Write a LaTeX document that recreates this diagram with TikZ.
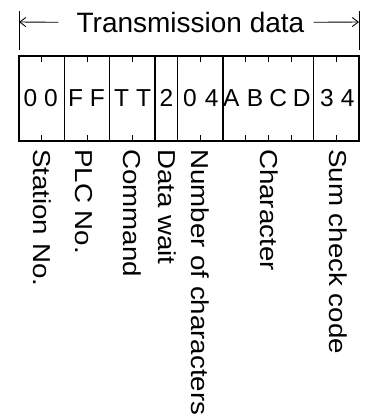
\documentclass[tikz,border=0pt]{standalone}
\usepackage{fontspec}
\setmainfont{Liberation Sans}
\newfontfamily\widefont[FakeStretch=1.13]{Liberation Sans}
\usetikzlibrary{arrows.meta}
\begin{document}
\begin{tikzpicture}[x=1pt,y=-1pt,
  frame/.style={line width=1.3pt},
  tickline/.style={line width=0.9pt},
  cellchar/.style={font=\fontsize{24.5}{24.5}\selectfont, anchor=base, inner sep=0pt},
  lbl/.style={font=\widefont\fontsize{24.5}{24.5}\selectfont, rotate=-90, anchor=base west, inner sep=0pt},
  dimarrow/.style={line width=0.9pt, -{Straight Barb[length=6pt,width=9pt]}}]
\useasboundingbox (0,0) rectangle (366,418);
\def\cw{22.6667}
% title and dimension arrows
\node[font=\fontsize{28}{28}\selectfont, anchor=base, inner sep=0pt] (title) at (190.5,32.3) {Transmission data};
\coordinate (lend) at (19,22);
\coordinate (rend) at (359,22);
\draw[tickline] (19,11) -- (19,50);
\draw[tickline] (359,11) -- (359,50);
\draw[dimarrow] ([xshift=-18pt]title.west) -- (lend);
\draw[dimarrow] ([xshift=9pt]title.east) -- (rend);
% frame
\draw[frame] (19,56) rectangle (359,141);
\foreach \k in {2,4,6,7,9,13} {
  \draw[frame] ({19+\k*\cw},56) -- ({19+\k*\cw},141);
}
\foreach \k in {1,3,5,8,10,11,12,14} {
  \draw[tickline] ({19+\k*\cw},56) -- ({19+\k*\cw},62);
  \draw[tickline] ({19+\k*\cw},141) -- ({19+\k*\cw},135);
}
% characters
\foreach \ch/\k/\dx [count=\i] in {0/0/0,0/1/-2,F/2/0,F/3/-1,T/4/0.7,T/5/0,2/6/0,0/7/1,4/8/0,A/9/-3,B/10/-2,C/11/-1.4,D/12/-0.6,3/13/2,4/14/0} {
  \node[cellchar] (c\i) at ({19+(\k+0.5)*\cw+\dx},106.7) {\ch};
}
% labels
\node[lbl] (l1) at (33.6,149) {Station No.};
\node[lbl] (l2) at (75,149) {PLC No.};
\node[lbl] (l3) at (123.7,149) {Command};
\node[lbl] (l4) at (158.3,149) {Data wait};
\node[lbl] (l5) at (191.7,149) {Number of characters};
\node[lbl] (l6) at (260.3,149) {Character};
\node[lbl] (l7) at (329.3,149) {Sum check code};
\end{tikzpicture}
\end{document}
